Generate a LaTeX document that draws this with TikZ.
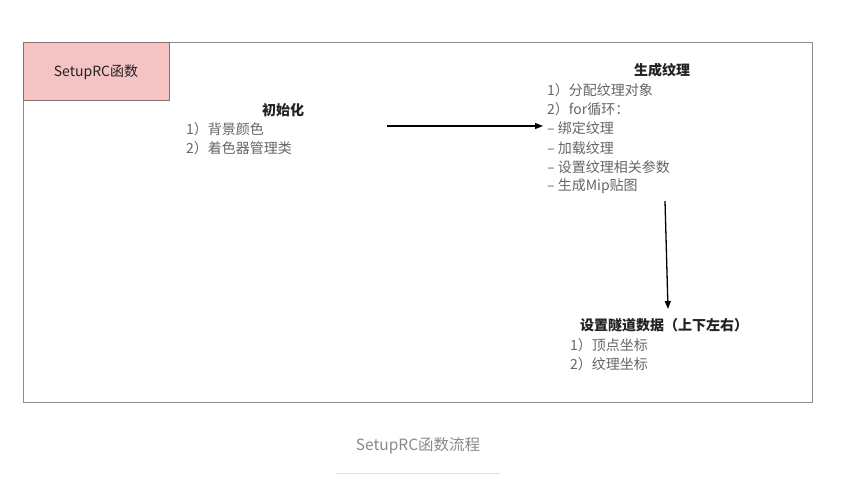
\documentclass[tikz,border=0pt]{standalone}
\usepackage{fontspec}
\setmainfont{Noto Sans CJK SC}
\usetikzlibrary{arrows.meta}
\definecolor{pinkfill}{HTML}{F4C3C4}
\definecolor{pinkdraw}{HTML}{8A6F6F}
\definecolor{frame}{HTML}{8C8C8C}
\definecolor{txtgray}{HTML}{666666}
\definecolor{headtxt}{HTML}{222222}
\definecolor{capgray}{HTML}{8A8A8A}
\begin{document}
\begin{tikzpicture}[x=1pt,y=-1pt,
  head/.style={font=\fontsize{14}{16}\selectfont\bfseries, text=headtxt, inner sep=0pt},
  item/.style={font=\fontsize{14}{16}\selectfont, text=txtgray, anchor=west, inner sep=0pt},
  arr/.style={-{Triangle[length=8pt,width=6pt]}, line width=1.3pt, draw=black}]
\useasboundingbox (0,0) rectangle (847,498);
\fill[white] (0,0) rectangle (847,498);
\node[draw=frame, line width=1.2pt, minimum width=789pt, minimum height=360pt, anchor=north west, inner sep=0pt] (frame) at (23,42) {};
\node[draw=pinkdraw, fill=pinkfill, line width=1pt, minimum width=146pt, minimum height=58pt, anchor=north west, inner sep=0pt] (title) at (23,42) {};
\node[font=\fontsize{14}{16}\selectfont, text=headtxt, inner sep=0pt] (titletext) at (96,72) {SetupRC函数};
% init
\node[head] (init) at (283,110) {初始化};
\node[item] (i1) at (186,129) {1）背景颜色};
\node[item] (i2) at (186,148) {2）着色器管理类};
% texture
\node[head] (tex) at (662,70) {生成纹理};
\node[item] (t1) at (547,90) {1）分配纹理对象};
\node[item] (t2) at (547,109) {2）for循环：};
\node[item] (t3) at (547,128) {– 绑定纹理};
\node[item] (t4) at (547,148) {– 加载纹理};
\node[item] (t5) at (547,167) {– 设置纹理相关参数};
\node[item] (t6) at (547,186) {– 生成Mip贴图};
% tunnel
\node[head] (tun) at (664,325) {设置隧道数据（上下左右）};
\node[item] (u1) at (570,345) {1）顶点坐标};
\node[item] (u2) at (570,364) {2）纹理坐标};
% arrows
\coordinate (a1s) at (387,126);
\coordinate (a1e) at (543,126);
\coordinate (a2s) at (665,201);
\coordinate (a2e) at (668,309);
\draw[arr] (a1s) -- (a1e);
\draw[arr] (a2s) -- (a2e);
% caption
\node[font=\fontsize{15.5}{17}\selectfont, text=capgray, inner sep=0pt] (cap) at (418,446) {SetupRC函数流程};
\draw[draw=black!12, line width=0.8pt] (336,473) -- (500,473);
\end{tikzpicture}
\end{document}
